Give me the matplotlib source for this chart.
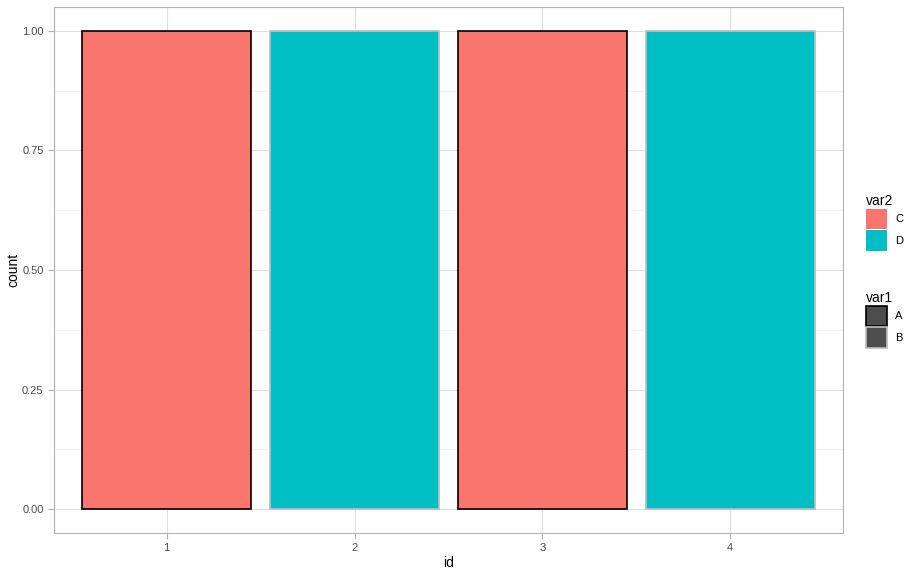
import matplotlib
matplotlib.use('Agg')
import matplotlib.pyplot as plt
from matplotlib.patches import Patch

plt.rcParams['font.family'] = ['Liberation Sans', 'DejaVu Sans']

# chart data
ids = [1, 2, 3, 4]
counts = [1, 1, 1, 1]
var1 = ['A', 'B', 'A', 'B']
var2 = ['C', 'D', 'C', 'D']

fill_colors = {'C': '#F8766D', 'D': '#00BFC4'}
edge_colors = {'A': 'black', 'B': '#BEBEBE'}

fig = plt.figure(figsize=(9.19, 5.75), dpi=100)
ax = fig.add_axes([54 / 919, 42 / 575, 789 / 919, 526 / 575])

ax.bar(ids, counts, width=0.9,
       color=[fill_colors[v] for v in var2],
       edgecolor=[edge_colors[v] for v in var1],
       linewidth=1.2, zorder=3)

ax.set_xlim(0.4, 4.6)
ax.set_ylim(-0.05, 1.05)
ax.set_xticks(ids)
ax.set_yticks([0, 0.25, 0.5, 0.75, 1.0])
ax.set_yticklabels(['0.00', '0.25', '0.50', '0.75', '1.00'])
ax.set_yticks([0.125, 0.375, 0.625, 0.875], minor=True)
ax.grid(which='major', color='#DEDEDE', linewidth=0.8, zorder=0)
ax.grid(which='minor', axis='y', color='#EFEFEF', linewidth=0.5, zorder=0)
ax.tick_params(which='major', colors='#B3B3B3', labelcolor='#4D4D4D',
               labelsize=8, length=4, width=0.8)
ax.tick_params(which='minor', length=0)
for s in ax.spines.values():
    s.set_color('#B3B3B3')
    s.set_linewidth(0.8)
ax.set_xlabel('id', fontsize=10, labelpad=2)
ax.set_ylabel('count', fontsize=10)
ax.yaxis.set_label_coords(-34 / 789, 0.5)

# legends
leg_kw = dict(loc='upper left', frameon=False, fontsize=8, title_fontsize=10,
              handlelength=1.9, handleheight=2.5, handletextpad=0.7,
              labelspacing=0.05, alignment='left', borderaxespad=0, borderpad=0)
h2 = [Patch(facecolor=fill_colors[k], edgecolor='none', label=k) for k in ['C', 'D']]
fig.legend(handles=h2, title='var2', bbox_to_anchor=(866 / 919, 1 - 194 / 575), **leg_kw)
h1 = [Patch(facecolor='#4D4D4D', edgecolor=edge_colors[k], linewidth=1.2, label=k) for k in ['A', 'B']]
fig.legend(handles=h1, title='var1', bbox_to_anchor=(866 / 919, 1 - 291 / 575), **leg_kw)

fig.savefig('out.png', dpi=100)
